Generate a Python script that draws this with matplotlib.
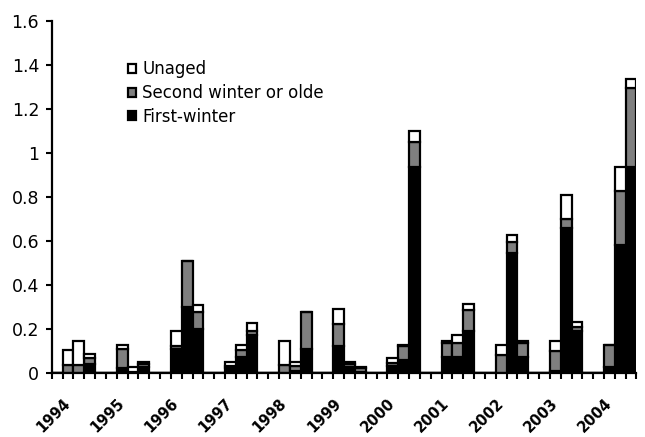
import numpy as np
import matplotlib.pyplot as plt
import matplotlib.transforms as mtransforms

# one slot per survey period, 54 slots from 1994 to 2004
years = ['1994', '1995', '1996', '1997', '1998', '1999',
         '2000', '2001', '2002', '2003', '2004']

first_winter = [
    0, 0, 0, 0.04, 0, 0, 0.02, 0.005, 0.025, 0,
    0, 0.11, 0.30, 0.197, 0, 0, 0.02, 0.07, 0.173, 0,
    0, 0, 0.01, 0.11, 0, 0, 0.12, 0.025, 0.005, 0,
    0, 0.03, 0.06, 0.936, 0, 0, 0.07, 0.07, 0.19, 0,
    0, 0, 0.543, 0.07, 0, 0, 0.01, 0.66, 0.19, 0,
    0, 0.025, 0.58, 0.936,
]
second_winter = [
    0, 0.035, 0.035, 0.025, 0, 0, 0.086, 0, 0.015, 0,
    0, 0.01, 0.21, 0.08, 0, 0, 0.01, 0.035, 0.015, 0,
    0, 0.035, 0.02, 0.165, 0, 0, 0.10, 0.015, 0.015, 0,
    0, 0.015, 0.06, 0.114, 0, 0, 0.066, 0.066, 0.095, 0,
    0, 0.08, 0.052, 0.065, 0, 0, 0.09, 0.04, 0.02, 0,
    0, 0.10, 0.246, 0.36,
]
unaged = [
    0, 0.07, 0.11, 0.02, 0, 0, 0.02, 0.02, 0.01, 0,
    0, 0.07, 0, 0.03, 0, 0, 0.02, 0.02, 0.04, 0,
    0, 0.11, 0.02, 0, 0, 0, 0.07, 0.01, 0.005, 0,
    0, 0.02, 0.005, 0.05, 0, 0, 0.01, 0.035, 0.027, 0,
    0, 0.045, 0.03, 0.01, 0, 0, 0.045, 0.11, 0.022, 0,
    0, 0, 0.108, 0.04,
]

plt.rcParams['font.family'] = ['DejaVu Sans']

fig = plt.figure(figsize=(6.45, 4.37), dpi=100)
ax = fig.add_axes([0.0802, 0.1471, 0.9066, 0.8055])

x = np.arange(len(first_winter))
f = np.array(first_winter)
s = np.array(second_winter)
u = np.array(unaged)

kw = dict(width=1.0, edgecolor='black', linewidth=1.6)
b_first = ax.bar(x, f, color='black', label='First-winter', **kw)
b_second = ax.bar(x, s, bottom=f, color='#7f7f7f', label='Second winter or olde', **kw)
b_unaged = ax.bar(x, u, bottom=f + s, color='white', label='Unaged', **kw)

ax.set_xlim(-0.5, len(x) - 0.5)
ax.set_ylim(0, 1.6)

for side in ['top', 'right']:
    ax.spines[side].set_visible(False)
for side in ['left', 'bottom']:
    ax.spines[side].set_linewidth(1.6)

# y axis
yt = np.arange(0, 1.61, 0.2)
ax.set_yticks(yt)
ax.set_yticklabels(['%g' % round(v, 1) for v in yt], fontsize=12.5)
ax.tick_params(axis='y', length=4.2, width=1.5, pad=4.8)

# x axis: small ticks between periods, year labels
ax.set_xticks([])
ax.set_xticks(np.arange(-0.5, len(x), 1.0), minor=True)
ax.tick_params(axis='x', which='minor', length=4.2, width=1.5, direction='out')

trans = mtransforms.blended_transform_factory(ax.transData, ax.transAxes)
for k, yr in enumerate(years):
    ax.text(5 * k + 0.5, -0.065, yr, transform=trans, rotation=45,
            ha='right', va='top', rotation_mode='anchor',
            fontsize=10.5, fontweight='bold')

ax.legend(handles=[b_unaged, b_second, b_first], loc='upper left',
          bbox_to_anchor=(0.1305, 0.888), frameon=False, fontsize=12,
          borderpad=0, borderaxespad=0, handlelength=0.45, handleheight=0.45,
          handletextpad=0.4, labelspacing=0.35)

fig.savefig('out.png', dpi=100)
